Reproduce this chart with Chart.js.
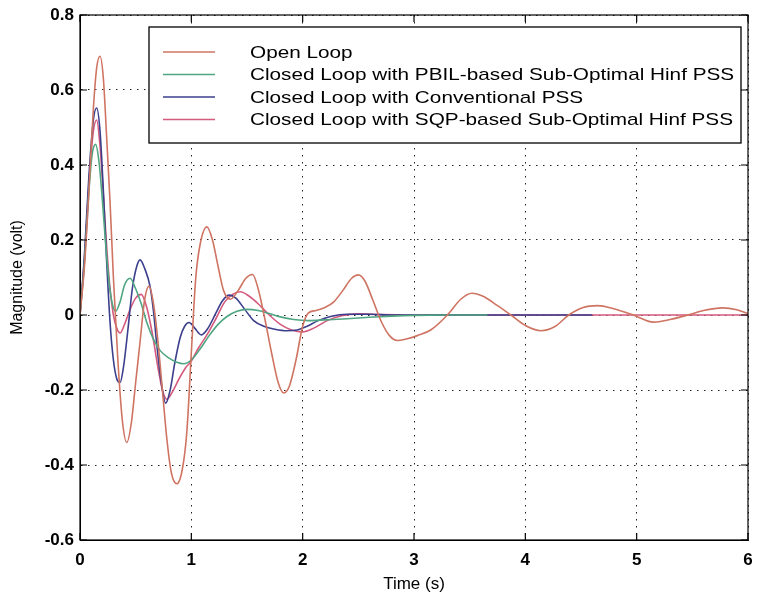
<!DOCTYPE html>
<html><head><meta charset="utf-8">
<script src="https://cdn.jsdelivr.net/npm/chart.js@4.4.1/dist/chart.umd.min.js"></script>
<style>html,body{margin:0;padding:0;background:#fff;overflow:hidden}</style>
</head><body>
<canvas id="c" width="757" height="601" style="display:block"></canvas>
<script>
// ---- data ----
const xTicks = [0, 1, 2, 3, 4, 5, 6];
const yTicks = [-0.6, -0.4, -0.2, 0, 0.2, 0.4, 0.6, 0.8];
const seriesNames = [
  'Open Loop',
  'Closed Loop with PBIL-based Sub-Optimal Hinf PSS',
  'Closed Loop with Conventional PSS',
  'Closed Loop with SQP-based Sub-Optimal Hinf PSS'
];

const tOpen = [0,0.04,0.08,0.12,0.15,0.18,0.21,0.24,0.27,0.3,0.34,0.38,0.42,0.46,0.5,0.54,0.58,0.62,0.66,0.7,0.74,0.78,0.82,0.87,0.92,0.96,1.0,1.04,1.08,1.14,1.19,1.24,1.29,1.35,1.42,1.49,1.55,1.6,1.66,1.72,1.78,1.83,1.88,1.94,2.0,2.05,2.12,2.2,2.28,2.36,2.44,2.5,2.56,2.63,2.71,2.78,2.85,2.93,3.03,3.15,3.3,3.42,3.52,3.62,3.75,3.87,4.0,4.14,4.27,4.39,4.52,4.65,4.8,4.97,5.15,5.3,5.46,5.6,5.77,5.9,6.0];
const vOpen = [0,0.13,0.33,0.55,0.66,0.69,0.63,0.47,0.30,0.10,-0.12,-0.28,-0.34,-0.29,-0.18,-0.07,0.04,0.077,0.03,-0.07,-0.2,-0.33,-0.42,-0.45,-0.41,-0.31,-0.1,0.1,0.19,0.235,0.2,0.13,0.065,0.042,0.065,0.098,0.108,0.07,-0.01,-0.1,-0.18,-0.208,-0.19,-0.12,-0.03,0.005,0.012,0.02,0.035,0.065,0.098,0.107,0.09,0.04,-0.02,-0.055,-0.068,-0.064,-0.055,-0.04,0.0,0.042,0.058,0.05,0.025,0.0,-0.028,-0.042,-0.03,0.0,0.02,0.025,0.016,0.0,-0.019,-0.012,0.0,0.012,0.019,0.014,0.004];

const tPbil = [0,0.04,0.08,0.11,0.14,0.17,0.2,0.23,0.26,0.29,0.32,0.36,0.4,0.45,0.5,0.55,0.6,0.66,0.72,0.8,0.87,0.93,1.0,1.08,1.16,1.24,1.32,1.41,1.5,1.6,1.7,1.8,1.92,2.05,2.2,2.4,2.6,2.8,3.0,3.3,3.66];
const vPbil = [0,0.14,0.33,0.43,0.455,0.41,0.31,0.19,0.09,0.03,0.01,0.035,0.08,0.098,0.07,0.03,-0.02,-0.065,-0.095,-0.115,-0.126,-0.13,-0.12,-0.09,-0.055,-0.025,-0.004,0.01,0.015,0.012,0.004,-0.005,-0.012,-0.015,-0.013,-0.01,-0.006,-0.003,-0.001,0,0];

const tConv = [0,0.04,0.08,0.12,0.15,0.18,0.21,0.24,0.27,0.3,0.33,0.36,0.39,0.43,0.47,0.51,0.54,0.58,0.63,0.66,0.69,0.73,0.77,0.81,0.85,0.9,0.94,0.98,1.03,1.09,1.15,1.22,1.28,1.34,1.4,1.48,1.56,1.65,1.75,1.86,1.95,2.04,2.14,2.25,2.4,2.6,2.8,3.2,4.6];
const vConv = [0,0.16,0.37,0.52,0.552,0.49,0.33,0.14,-0.02,-0.12,-0.17,-0.18,-0.14,-0.04,0.07,0.13,0.147,0.125,0.075,0.01,-0.08,-0.18,-0.235,-0.2,-0.13,-0.06,-0.03,-0.02,-0.035,-0.053,-0.035,0.005,0.038,0.053,0.045,0.015,-0.015,-0.03,-0.038,-0.042,-0.04,-0.03,-0.015,-0.004,0.002,0.002,0,0,0];

const tSqp = [0,0.04,0.08,0.12,0.15,0.18,0.21,0.24,0.27,0.3,0.33,0.36,0.4,0.45,0.5,0.55,0.6,0.65,0.7,0.74,0.78,0.83,0.89,0.95,1.0,1.06,1.14,1.22,1.3,1.37,1.44,1.52,1.6,1.7,1.8,1.9,2.0,2.1,2.22,2.35,2.5,2.7,3.0,6.0];
const vSqp = [0,0.15,0.35,0.49,0.52,0.45,0.32,0.18,0.07,0.0,-0.035,-0.048,-0.025,0.015,0.045,0.055,0.02,-0.05,-0.14,-0.2,-0.225,-0.205,-0.17,-0.14,-0.123,-0.09,-0.053,-0.01,0.035,0.055,0.062,0.05,0.03,0.0,-0.025,-0.04,-0.045,-0.035,-0.015,-0.002,0.003,0.001,0,0];

const seriesColors = ['#cf7462', '#4fa682', '#3b3f8c', '#d45a7e'];

// ---- build chart ----
function pts(t, v) { return t.map((x, i) => ({ x: x, y: v[i] })); }
const seriesData = [pts(tOpen, vOpen), pts(tPbil, vPbil), pts(tConv, vConv), pts(tSqp, vSqp)];

const FONT = 'Liberation Sans, Arial, Helvetica, sans-serif';

const framePlugin = {
  id: 'frame',
  afterDraw(chart) {
    const ctx = chart.ctx;
    const { left, right, top, bottom } = chart.chartArea;
    const xs = chart.scales.x, ys = chart.scales.y;
    ctx.save();
    ctx.strokeStyle = '#000';
    ctx.lineWidth = 1.2;
    ctx.strokeRect(left, top, right - left, bottom - top);
    ctx.beginPath();
    xTicks.forEach(v => {
      const p = xs.getPixelForValue(v);
      ctx.moveTo(p, bottom); ctx.lineTo(p, bottom - 7);
      ctx.moveTo(p, top); ctx.lineTo(p, top + 7);
    });
    yTicks.forEach(v => {
      const p = ys.getPixelForValue(v);
      ctx.moveTo(left, p); ctx.lineTo(left + 7, p);
      ctx.moveTo(right, p); ctx.lineTo(right - 7, p);
    });
    ctx.stroke();

    // legend box (MATLAB style, inside the axes)
    const bx = 149, by = 27, bw = 592, bh = 116;
    ctx.fillStyle = '#fff';
    ctx.fillRect(bx, by, bw, bh);
    ctx.lineWidth = 1.3;
    ctx.strokeRect(bx, by, bw, bh);
    const rowY = [52, 74.5, 97, 119.5];
    chart.data.datasets.forEach((ds, i) => {
      ctx.strokeStyle = ds.borderColor;
      ctx.lineWidth = 1.6;
      ctx.beginPath();
      ctx.moveTo(163, rowY[i]); ctx.lineTo(215, rowY[i]);
      ctx.stroke();
      ctx.save();
      ctx.translate(250, rowY[i]);
      ctx.scale(1.22, 1);
      ctx.fillStyle = '#000';
      ctx.font = '17px ' + FONT;
      ctx.textBaseline = 'middle';
      ctx.textAlign = 'left';
      ctx.fillText(ds.label, 0, 1);
      ctx.restore();
    });
    ctx.restore();
  }
};

new Chart(document.getElementById('c'), {
  type: 'line',
  data: {
    datasets: seriesNames.map((n, i) => ({
      label: n,
      data: seriesData[i],
      borderColor: seriesColors[i],
      backgroundColor: seriesColors[i],
      borderWidth: 1.6,
      pointRadius: 0,
      fill: false,
      cubicInterpolationMode: 'monotone'
    }))
  },
  options: {
    responsive: false,
    animation: false,
    devicePixelRatio: 1,
    layout: { padding: { top: 15, right: 9, left: 0, bottom: 0 } },
    plugins: { legend: { display: false }, tooltip: { enabled: false } },
    scales: {
      x: {
        type: 'linear', min: 0, max: 6,
        afterBuildTicks: s => { s.ticks = xTicks.map(v => ({ value: v })); },
        afterFit: s => { s.height = 61; s.paddingLeft = 0; s.paddingRight = 0; },
        ticks: { color: '#000', font: { family: FONT, size: 17, weight: 'bold' }, padding: 10, maxRotation: 0 },
        grid: { color: '#222', lineWidth: 1, drawTicks: false },
        border: { display: true, color: '#000', dash: [1.5, 5.5] },
        title: { display: true, text: 'Time (s)', color: '#000', font: { family: FONT, size: 17 }, padding: { top: 0, bottom: 6 } }
      },
      y: {
        type: 'linear', min: -0.6, max: 0.8,
        afterBuildTicks: s => { s.ticks = yTicks.map(v => ({ value: v })); },
        afterFit: s => { s.width = 80; s.paddingTop = 0; s.paddingBottom = 0; },
        ticks: { color: '#000', font: { family: FONT, size: 17, weight: 'bold' }, padding: 6,
          callback: v => (Math.abs(v) < 1e-9 ? '0' : String(Math.round(v * 10) / 10)) },
        grid: { color: '#222', lineWidth: 1, drawTicks: false },
        border: { display: true, color: '#000', dash: [1.5, 5.5] },
        title: { display: true, text: 'Magnitude (volt)', color: '#000', font: { family: FONT, size: 16 }, padding: { top: 8, bottom: 0 } }
      }
    }
  },
  plugins: [framePlugin]
});
</script>
</body></html>
